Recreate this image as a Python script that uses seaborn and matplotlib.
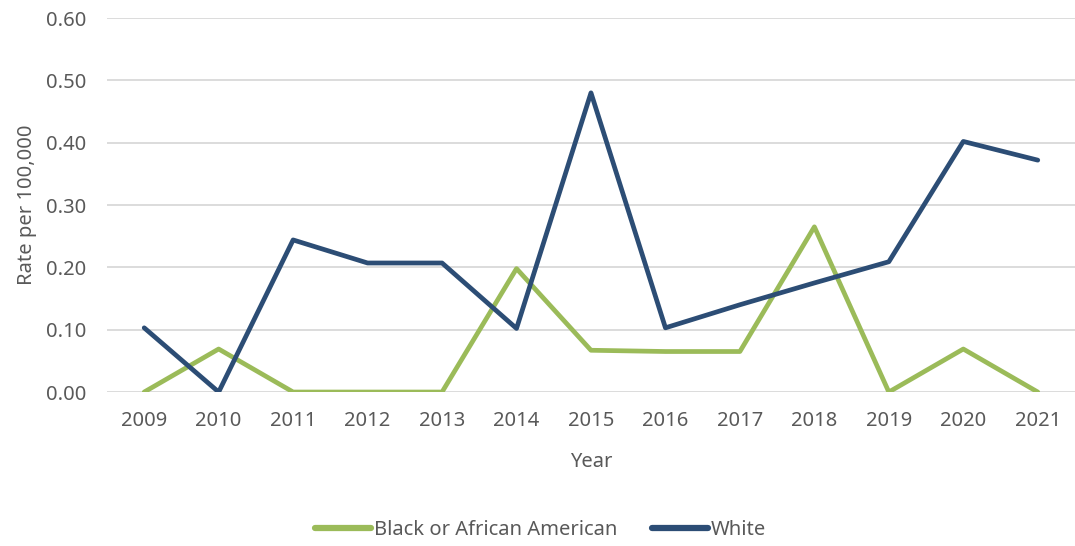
import matplotlib
matplotlib.use("Agg")
import matplotlib.pyplot as plt
import seaborn as sns
import pandas as pd

years = [2009, 2010, 2011, 2012, 2013, 2014, 2015, 2016, 2017, 2018, 2019, 2020, 2021]
black = [0.0, 0.069, 0.0, 0.0, 0.0, 0.198, 0.067, 0.065, 0.065, 0.265, 0.0, 0.069, 0.0]
white = [0.103, 0.0, 0.244, 0.207, 0.207, 0.102, 0.480, 0.103, 0.140, 0.175, 0.209, 0.402, 0.372]
series_names = ["Black or African American", "White"]
colors = ["#9BBB59", "#2C4D75"]
yticks = [0.0, 0.1, 0.2, 0.3, 0.4, 0.5, 0.6]

sns.set_theme(style="white")
plt.rcParams['font.family'] = ['Noto Sans', 'DejaVu Sans']
text_color = "#595959"

df = pd.DataFrame({
    "pos": list(range(len(years))) * 2,
    "Year": [str(y) for y in years] * 2,
    "Rate": black + white,
    "Series": [series_names[0]] * len(years) + [series_names[1]] * len(years),
})

fig = plt.figure(figsize=(10.75, 5.46), dpi=100)
ax = fig.add_axes([0.0995, 0.282, 0.9005, 0.685])
sns.lineplot(data=df, x="pos", y="Rate", hue="Series", palette=colors,
             linewidth=3.4, ax=ax, legend=True, solid_capstyle="round")

ax.set_xlim(-0.5, len(years) - 0.5)
ax.set_ylim(0, 0.6)
ax.set_yticks(yticks)
ax.set_yticklabels([f"{v:.2f}" for v in yticks])
ax.set_xticks(range(len(years)))
ax.set_xticklabels([str(y) for y in years])
ax.yaxis.grid(True, color="#D9D9D9", linewidth=1.3)
ax.xaxis.grid(False)
ax.set_axisbelow(True)
for s in ax.spines.values():
    s.set_visible(False)
ax.tick_params(axis="both", colors=text_color, labelsize=14.5, length=0)
ax.tick_params(axis="x", pad=14)
ax.tick_params(axis="y", pad=15)
ax.set_xlabel("Year", fontsize=14.5, color=text_color, labelpad=15)
ax.set_ylabel("Rate per 100,000", fontsize=14.5, color=text_color, labelpad=6)

leg = ax.legend(loc="center", bbox_to_anchor=(0.448, -0.37), ncol=2, frameon=False,
                fontsize=14.5, handlelength=2.8, handletextpad=0.15, columnspacing=1.7)
for t in leg.get_texts():
    t.set_color(text_color)
for h in leg.get_lines():
    h.set_linewidth(4.5)

fig.savefig("out.png", dpi=100)
